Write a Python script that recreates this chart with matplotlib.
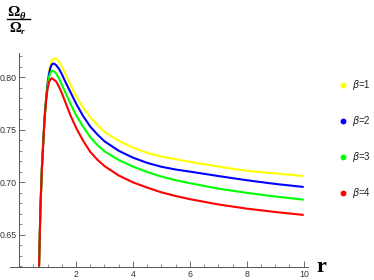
import matplotlib
matplotlib.use("Agg")
import matplotlib.pyplot as plt
from matplotlib.ticker import MultipleLocator

# ---- data ----
r = [0.70, 0.75, 0.80, 0.85, 0.90, 0.95, 1.00, 1.05, 1.10, 1.15, 1.20, 1.25, 1.30,
     1.40, 1.50, 1.60, 1.80, 2.00, 2.25, 2.50, 2.75, 3.00, 3.50, 4.00, 4.50, 5.00,
     5.50, 6.00, 7.00, 8.00, 9.00, 10.0]

beta1 = [0.620, 0.677, 0.714, 0.741, 0.764, 0.781, 0.796, 0.806, 0.812, 0.816, 0.8175, 0.818, 0.8175,
         0.815, 0.810, 0.8045, 0.793, 0.782, 0.771, 0.762, 0.7545, 0.748, 0.7395, 0.733, 0.728, 0.7245,
         0.722, 0.7195, 0.715, 0.711, 0.7085, 0.706]
beta2 = [0.620, 0.677, 0.714, 0.740, 0.763, 0.780, 0.794, 0.803, 0.809, 0.812, 0.813, 0.8125, 0.8115,
         0.808, 0.803, 0.797, 0.786, 0.775, 0.763, 0.753, 0.7455, 0.739, 0.730, 0.7235, 0.7185, 0.7148,
         0.7122, 0.7102, 0.706, 0.702, 0.6985, 0.6956]
beta3 = [0.620, 0.676, 0.713, 0.739, 0.762, 0.779, 0.792, 0.800, 0.804, 0.806, 0.8058, 0.805, 0.8035,
         0.799, 0.793, 0.787, 0.775, 0.764, 0.753, 0.743, 0.7355, 0.7295, 0.7212, 0.715, 0.7098, 0.7055,
         0.702, 0.6992, 0.694, 0.690, 0.6865, 0.6835]
beta4 = [0.620, 0.675, 0.712, 0.738, 0.762, 0.778, 0.789, 0.795, 0.798, 0.799, 0.798, 0.797, 0.796,
         0.791, 0.785, 0.778, 0.764, 0.752, 0.7395, 0.729, 0.7215, 0.7155, 0.7065, 0.700, 0.695, 0.6905,
         0.687, 0.684, 0.679, 0.675, 0.6718, 0.669]

series = [beta1, beta2, beta3, beta4]
labels = ["1", "2", "3", "4"]
colors = ["#FFFF00", "#0000FF", "#00FF00", "#FF0000"]

xticks = [2, 4, 6, 8, 10]
yticks = [0.65, 0.70, 0.75, 0.80]

# ---- figure ----
fig = plt.figure(figsize=(3.74, 2.80), dpi=100)
W, H = 374, 280
ax_l, ax_r, ax_t, ax_b = 10, 308, 53, 267
ax = fig.add_axes([ax_l / W, 1 - ax_b / H, (ax_r - ax_l) / W, (ax_b - ax_t) / H])

for ys, c in zip(series, colors):
    ax.plot(r, ys, color=c, lw=1.5, solid_capstyle="butt", solid_joinstyle="round", clip_on=True)

ax.set_xlim(-0.32, 10.15)
ax.set_ylim(0.6195, 0.823)

for s in ["top", "right"]:
    ax.spines[s].set_visible(False)
ax.spines["left"].set_position(("data", 0))
axcol = "#555555"
for s in ["left", "bottom"]:
    ax.spines[s].set_color(axcol)
    ax.spines[s].set_linewidth(0.7)

ax.set_xticks(xticks)
ax.set_xticklabels([str(t) for t in xticks])
ax.set_yticks(yticks)
ax.set_yticklabels(["%.2f" % t for t in yticks])
ax.xaxis.set_minor_locator(MultipleLocator(0.5))
ax.yaxis.set_minor_locator(MultipleLocator(0.01))
ax.tick_params(which="major", direction="in", length=4, width=0.6, color=axcol,
               labelsize=6.3, labelcolor="#333333", pad=2)
ax.tick_params(which="minor", direction="in", length=2, width=0.5, color=axcol)
for lab in ax.get_xticklabels() + ax.get_yticklabels():
    lab.set_family("Liberation Sans")

# y label as a fraction
fig.text(7 / W, 1 - 15.5 / H, "Ω", family="Liberation Serif", weight="bold",
         fontsize=11, ha="left", va="baseline")
fig.text(19.5 / W, 1 - 19 / H, "θ", family="Liberation Serif", weight="bold",
         style="italic", fontsize=7.5, ha="left", va="baseline")
fig.add_artist(plt.Line2D([7 / W, 30 / W], [1 - 19.3 / H, 1 - 19.3 / H],
                          color="black", lw=1.0))
fig.text(9.5 / W, 1 - 32 / H, "Ω", family="Liberation Serif", weight="bold",
         fontsize=10.5, ha="left", va="baseline")
fig.text(21 / W, 1 - 34 / H, "r", family="Liberation Serif", weight="bold",
         style="italic", fontsize=6.5, ha="left", va="baseline")

# x label
fig.text(316 / W, 1 - 272 / H, "r", family="Liberation Serif", weight="bold",
         fontsize=16, ha="left", va="baseline")

# legend
leg_y = [85.3, 121.3, 157.3, 193.3]
for yy, lab, c in zip(leg_y, labels, colors):
    fig.add_artist(plt.Line2D([343 / W], [1 - yy / H], marker="o", markersize=3.2,
                              color=c, lw=0))
    fig.text(352 / W, 1 - yy / H, r"$\beta$=" + lab, family="Liberation Sans",
             fontsize=7, ha="left", va="center", color="#222222")

fig.savefig("out.png", dpi=100)
